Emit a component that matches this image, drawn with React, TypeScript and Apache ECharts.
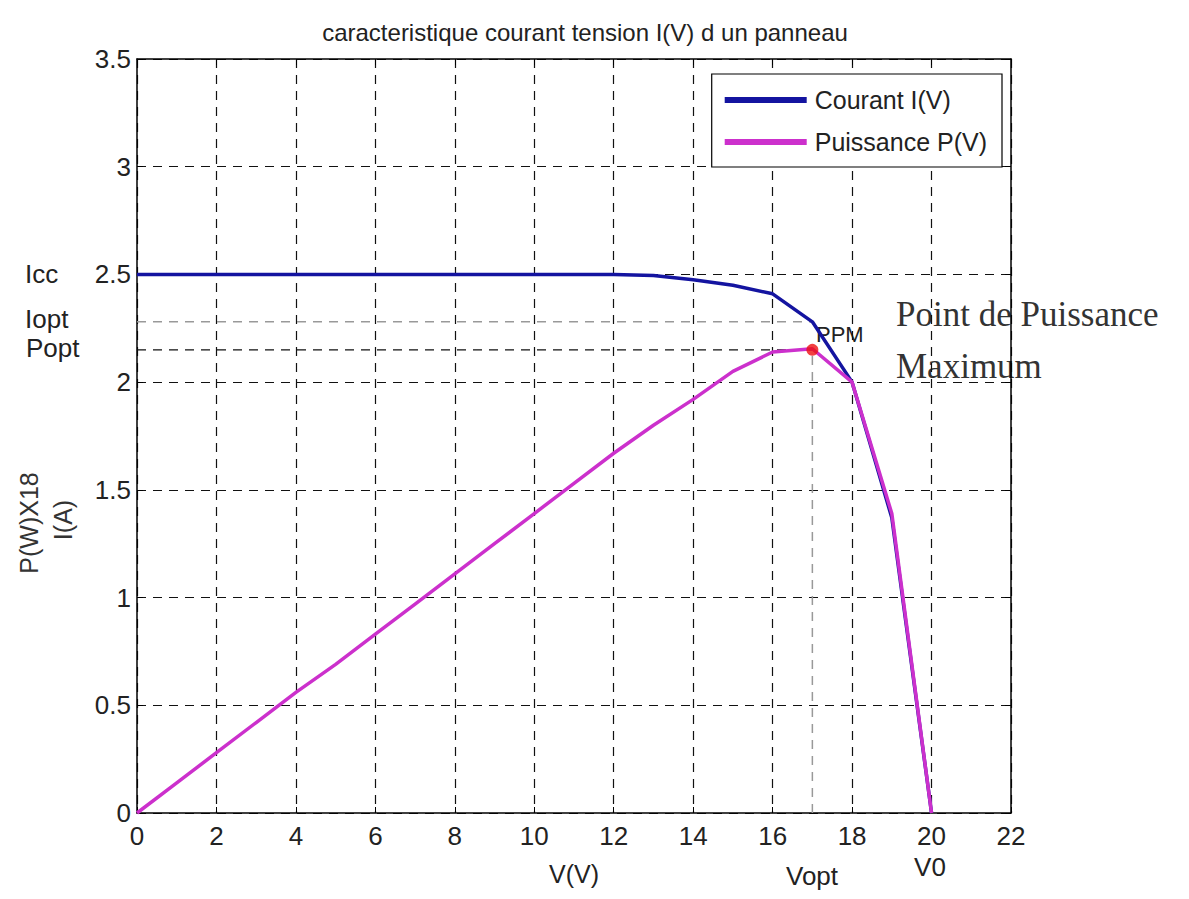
import React, { useEffect, useRef } from "react";
import * as echarts from "echarts";

const titleText = "caracteristique courant tension I(V) d un panneau";
const voltage = [0, 1, 2, 3, 4, 5, 6, 7, 8, 9, 10, 11, 12, 13, 14, 15, 16, 17, 18, 19, 20];
const current = [2.5, 2.5, 2.5, 2.5, 2.5, 2.5, 2.5, 2.5, 2.5, 2.5, 2.5, 2.5, 2.5, 2.495, 2.475, 2.45, 2.41, 2.28, 2.0, 1.37, 0];
const power = [0, 0.14, 0.28, 0.42, 0.56, 0.69, 0.83, 0.97, 1.11, 1.25, 1.39, 1.53, 1.67, 1.8, 1.92, 2.05, 2.14, 2.155, 2.0, 1.39, 0];
const seriesNames = ["Courant I(V)", "Puissance P(V)"];
const Vopt = 17;
const Iopt = 2.28;
const Popt = 2.15;
const xTicks = { min: 0, max: 22, interval: 2 };
const yTicks = { min: 0, max: 3.5, interval: 0.5 };
const yAxisLines = ["P(W)X18", "I(A)"];

const FONT = "'Liberation Sans Narrow', 'Liberation Sans', Arial, sans-serif";
const SERIF = "'Liberation Serif', 'DejaVu Serif', serif";
const TXT = "#222";

export default function App() {
  const ref = useRef<HTMLDivElement>(null);
  useEffect(() => {
    if (!ref.current) return;
    const chart = echarts.init(ref.current, undefined, { renderer: "svg" });
    const pair = (ys: number[]) => voltage.map((v, i) => [v, ys[i]]);
    const axisCommon = {
      type: "value" as const,
      axisLine: { show: true, onZero: false, lineStyle: { color: "#000", width: 1.5 } },
      axisTick: { show: true, inside: true, length: 6, lineStyle: { color: "#000" } },
    };
    const txt = (text: string, x: number, y: number, size: number, extra: any = {}) => ({
      type: "text",
      x,
      y,
      ...extra.el,
      style: {
        text,
        fontFamily: FONT,
        fontSize: size,
        fill: TXT,
        align: "left",
        verticalAlign: "middle",
        ...extra.style,
      },
    });
    chart.setOption({
      animation: false,
      backgroundColor: "#fff",
      title: {
        text: titleText,
        left: 580,
        textAlign: "center",
        top: 15,
        textStyle: { fontFamily: FONT, fontSize: 24, fontWeight: "normal", color: TXT },
      },
      legend: {
        data: seriesNames,
        orient: "vertical",
        right: 187,
        top: 74,
        backgroundColor: "#fff",
        borderColor: "#000",
        borderWidth: 1.2,
        padding: [13, 15, 12, 13],
        itemGap: 16,
        itemWidth: 82,
        itemHeight: 6,
        icon: "rect",
        textStyle: { fontFamily: FONT, fontSize: 25, color: TXT, lineHeight: 26, padding: [0, 0, 0, 3] },
      },
      grid: { left: 137, right: 178, top: 59, bottom: 86 },
      xAxis: [
        {
          ...axisCommon,
          ...xTicks,
          position: "bottom",
          name: "V(V)",
          nameLocation: "middle",
          nameGap: 48,
          nameTextStyle: { fontFamily: FONT, fontSize: 25, color: TXT },
          axisLabel: { fontFamily: FONT, fontSize: 26, color: TXT, margin: 10 },
          splitLine: { show: true, lineStyle: { color: "#111", type: [9, 7], width: 1.2 } },
        },
        {
          ...axisCommon,
          ...xTicks,
          position: "top",
          axisLabel: { show: false },
          splitLine: { show: false },
        },
      ],
      yAxis: [
        {
          ...axisCommon,
          ...yTicks,
          position: "left",
          axisLabel: { fontFamily: FONT, fontSize: 26, color: TXT, margin: 6 },
          splitLine: { show: true, lineStyle: { color: "#111", type: [9, 7], width: 1.2 } },
        },
        {
          ...axisCommon,
          ...yTicks,
          position: "right",
          axisLabel: { show: false },
          splitLine: { show: false },
        },
      ],
      series: [
        {
          name: "IoptRef",
          type: "line",
          data: [[0, Iopt], [Vopt, Iopt]],
          symbol: "none",
          lineStyle: { color: "#999", width: 1.5, type: [9, 7] },
          silent: true,
        },
        {
          name: "PoptRef",
          type: "line",
          data: [[0, Popt], [Vopt, Popt]],
          symbol: "none",
          lineStyle: { color: "#111", width: 1.2, type: [9, 7] },
          silent: true,
        },
        {
          name: "VoptRef",
          type: "line",
          data: [[Vopt, 0], [Vopt, Popt]],
          symbol: "none",
          lineStyle: { color: "#999", width: 1.5, type: [9, 7] },
          silent: true,
        },
        {
          name: seriesNames[0],
          type: "line",
          data: pair(current),
          symbol: "none",
          itemStyle: { color: "#1414a0" },
          lineStyle: { color: "#1414a0", width: 3.5 },
        },
        {
          name: seriesNames[1],
          type: "line",
          data: pair(power),
          symbol: "none",
          itemStyle: { color: "#cc30cc" },
          lineStyle: { color: "#cc30cc", width: 3.5 },
        },
        {
          name: "PPM",
          type: "scatter",
          data: [[Vopt, Popt]],
          symbolSize: 12,
          itemStyle: { color: "#ee1010" },
          z: 5,
        },
      ],
      graphic: [
        txt("Icc", 25, 274, 26),
        txt("Iopt", 25, 319, 26),
        txt("Popt", 26, 348, 26),
        txt("PPM", 816, 334, 22),
        txt("Point de Puissance", 896, 314, 35, { style: { fontFamily: SERIF, fill: "#333" } }),
        txt("Maximum", 896, 366, 35, { style: { fontFamily: SERIF, fill: "#333" } }),
        txt("Vopt", 812, 876, 26, { style: { align: "center" } }),
        txt("V0", 930, 867, 26, { style: { align: "center" } }),
        txt(yAxisLines[0], 29, 523, 25, { el: { rotation: Math.PI / 2 }, style: { align: "center", fill: "#333" } }),
        txt(yAxisLines[1], 63, 520, 25, { el: { rotation: Math.PI / 2 }, style: { align: "center", fill: "#333" } }),
      ],
    });
    return () => chart.dispose();
  }, []);
  return <div ref={ref} style={{ width: 1189, height: 899, margin: -8 }} />;
}
